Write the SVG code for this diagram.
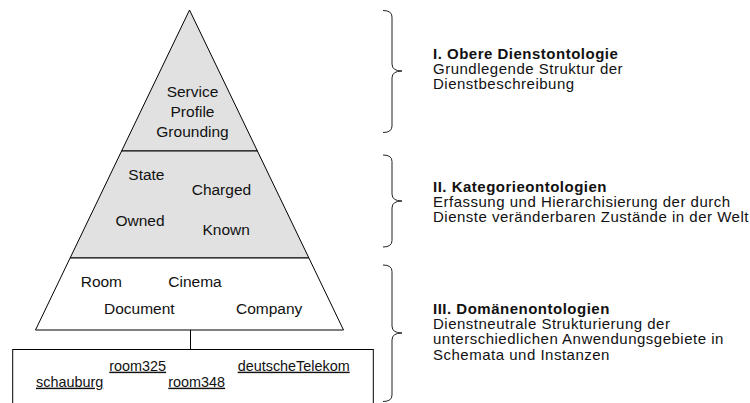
<svg xmlns="http://www.w3.org/2000/svg" width="750" height="403" viewBox="0 0 750 403">
  <style>
    .tier { stroke: #000; stroke-width: 1; }
    .shaded { fill: #e1e1e1; }
    .plain { fill: #fff; }
    .lbl { font-family: "Liberation Sans", Arial, sans-serif; font-size: 15.5px; fill: #111; }
    .inst { font-family: "Liberation Sans", Arial, sans-serif; font-size: 14.4px; fill: #111; text-decoration: underline; }
    .head { font-family: "Liberation Sans", Arial, sans-serif; font-size: 15px; font-weight: bold; fill: #111; letter-spacing: 0.5px; }
    .desc { font-family: "Liberation Sans", Arial, sans-serif; font-size: 15px; fill: #111; letter-spacing: 0.5px; }
    .brace { fill: none; stroke: #222; stroke-width: 1; }
    .link { stroke: #000; stroke-width: 1; fill: none; }
  </style>

  <rect width="750" height="403" fill="#fff"/>

  <!-- Tier I: upper service ontology -->
  <g id="tier-upper">
    <polygon class="tier shaded" points="189.5,10 257.4,151 121.6,151"/>
    <text class="lbl" x="192.5" y="96.5" text-anchor="middle">Service</text>
    <text class="lbl" x="192.5" y="116.5" text-anchor="middle">Profile</text>
    <text class="lbl" x="192.5" y="136.5" text-anchor="middle">Grounding</text>
  </g>

  <!-- Tier II: category ontologies -->
  <g id="tier-category">
    <polygon class="tier shaded" points="121.6,151 257.4,151 308.9,258 70.1,258"/>
    <text class="lbl" x="128.3" y="180">State</text>
    <text class="lbl" x="191.7" y="195">Charged</text>
    <text class="lbl" x="115.5" y="225.7">Owned</text>
    <text class="lbl" x="202.5" y="235">Known</text>
  </g>

  <!-- Tier III: domain ontologies (schemata) -->
  <g id="tier-domain">
    <polygon class="tier plain" points="70.1,258 308.9,258 343.5,330 35.5,330"/>
    <text class="lbl" x="80.7" y="286.7">Room</text>
    <text class="lbl" x="168.3" y="286.7">Cinema</text>
    <text class="lbl" x="104" y="314">Document</text>
    <text class="lbl" x="236" y="314">Company</text>
  </g>

  <!-- Instances -->
  <g id="instances">
    <rect class="tier plain" x="12.7" y="349.5" width="360.6" height="70"/>
    <text class="inst" x="109.3" y="370.7">room325</text>
    <text class="inst" x="237.7" y="370.7">deutscheTelekom</text>
    <text class="inst" x="36" y="386.7">schauburg</text>
    <text class="inst" x="168.3" y="386.7">room348</text>
  </g>

  <g id="connectors">
    <line class="link" x1="190.5" y1="330" x2="190.5" y2="349.5"/>
  </g>

  <!-- Braces with level descriptions -->
  <g id="level-1">
    <path class="brace" d="M383,10.5 Q392,10.5 392,17 L392,64 Q392,71 402,71 Q392,71 392,78 L392,126 Q392,132.5 383,132.5"/>
    <text class="head" x="433" y="58.5">I. Obere Dienstontologie</text>
    <text class="desc" x="433" y="73.5">Grundlegende Struktur der</text>
    <text class="desc" x="433" y="88.5">Dienstbeschreibung</text>
  </g>

  <g id="level-2">
    <path class="brace" d="M383,155 Q392,155 392,161.5 L392,194 Q392,201 402,201 Q392,201 392,208 L392,240.5 Q392,247 383,247"/>
    <text class="head" x="433" y="191.7">II. Kategorieontologien</text>
    <text class="desc" x="433" y="206.7">Erfassung und Hierarchisierung der durch</text>
    <text class="desc" x="433" y="221.7">Dienste veränderbaren Zustände in der Welt</text>
  </g>

  <g id="level-3">
    <path class="brace" d="M383,265 Q392,265 392,271.5 L392,326 Q392,333 402,333 Q392,333 392,340 L392,395 Q392,401.5 383,401.5"/>
    <text class="head" x="433" y="314">III. Domänenontologien</text>
    <text class="desc" x="433" y="329">Dienstneutrale Strukturierung der</text>
    <text class="desc" x="433" y="344.3">unterschiedlichen Anwendungsgebiete in</text>
    <text class="desc" x="433" y="359.5">Schemata und Instanzen</text>
  </g>
</svg>
